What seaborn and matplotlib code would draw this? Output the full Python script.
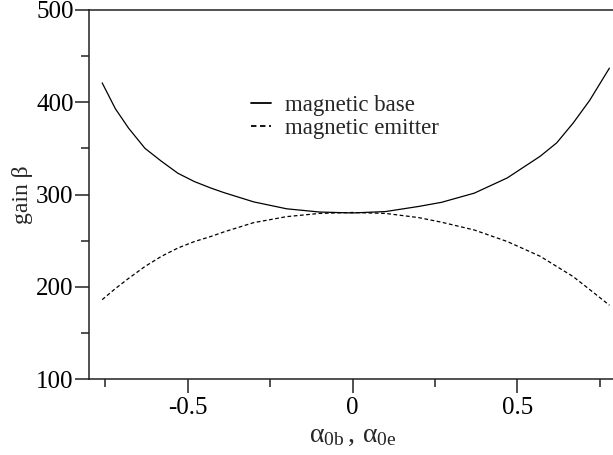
import numpy as np
import pandas as pd
import matplotlib
matplotlib.use("Agg")
import matplotlib.pyplot as plt
import seaborn as sns
from matplotlib.ticker import MultipleLocator

# Data
alpha = [-0.76, -0.72, -0.68, -0.63, -0.58, -0.53, -0.48, -0.43, -0.39,
         -0.3, -0.2, -0.1, 0.0, 0.1, 0.2, 0.27, 0.37, 0.47, 0.57,
         0.62, 0.67, 0.72, 0.78]
gain_base = [421, 393, 372, 350, 336, 323, 314, 307, 302,
             292, 284.5, 281, 280, 281.5, 287, 291.5, 301.5, 318, 341.5,
             356, 377.5, 402, 437]
gain_emitter = [186, 198, 209, 222, 233, 242, 249, 254.5, 259.5,
                269.5, 276, 279.5, 280.5, 279.5, 275, 270, 261.5, 249, 233,
                222, 211, 197, 180]
series_names = ["magnetic base", "magnetic emitter"]

x_ticks = [-0.5, 0, 0.5]
x_tick_labels = ["-0.5", "0", "0.5"]
y_ticks = [100, 200, 300, 400, 500]

df = pd.concat([
    pd.DataFrame({"alpha": alpha, "gain": gain_base, "series": series_names[0]}),
    pd.DataFrame({"alpha": alpha, "gain": gain_emitter, "series": series_names[1]}),
], ignore_index=True)

sns.set_theme(style="ticks")
plt.rcParams["font.family"] = ["Liberation Serif", "DejaVu Serif"]
plt.rcParams["mathtext.fontset"] = "custom"
plt.rcParams["mathtext.rm"] = "Liberation Serif"
plt.rcParams["mathtext.it"] = "Liberation Serif"

fig = plt.figure(figsize=(6.13, 4.55), dpi=100)
ax = fig.add_axes([89 / 613, 76 / 455, 527 / 613, 369 / 455])

sns.lineplot(data=df, x="alpha", y="gain", style="series",
             dashes={series_names[0]: "", series_names[1]: (3, 2)},
             color="black", linewidth=0.9, ax=ax, sort=False)

ax.set_xlim(-0.8, 0.8)
ax.set_ylim(100, 500)
ax.set_xticks(x_ticks)
ax.set_xticklabels(x_tick_labels)
ax.set_yticks(y_ticks)
ax.xaxis.set_minor_locator(MultipleLocator(0.25))
ax.yaxis.set_minor_locator(MultipleLocator(50))
ax.tick_params(axis="both", which="major", direction="out", length=10,
               width=1.1, labelsize=18, color="#222222", labelcolor="black")
ax.tick_params(axis="both", which="minor", direction="out", length=5.5,
               width=1.1, color="#222222")
ax.tick_params(axis="x", which="major", pad=3)
ax.tick_params(axis="y", which="major", pad=1)

for side in ["left", "bottom", "top"]:
    ax.spines[side].set_visible(True)
    ax.spines[side].set_linewidth(1.1)
    ax.spines[side].set_color("#222222")
ax.spines["right"].set_visible(False)

ax.set_xlabel(r"$\alpha_{\rm 0b}\,,\,\alpha_{\rm 0e}$", fontsize=20, labelpad=3)
ax.set_ylabel("gain β", fontsize=17, labelpad=2)

leg = ax.legend(frameon=False, fontsize=16.5, handlelength=0.9, handletextpad=0.6,
                labelspacing=0.1, loc="upper left",
                bbox_to_anchor=((230 - 89) / 527, (379 - 74) / 369))
for line in leg.get_lines():
    line.set_linewidth(1.3)

fig.savefig("out.png", dpi=100)
